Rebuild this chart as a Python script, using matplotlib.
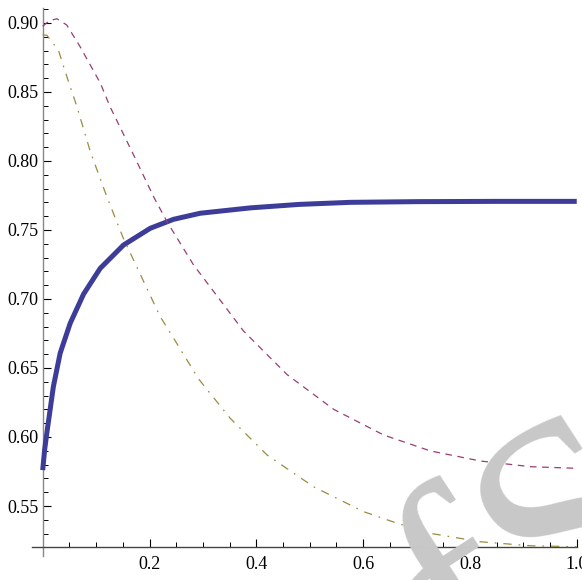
import numpy as np
import matplotlib
matplotlib.use("Agg")
import matplotlib.pyplot as plt

plt.rcParams['font.family'] = ['Liberation Serif', 'DejaVu Serif']
plt.rcParams['lines.scale_dashes'] = False

# values
blue_x = [0, 0.0037, 0.0077, 0.020, 0.0327, 0.0515, 0.0765, 0.1077, 0.1514, 0.2014, 0.245,
          0.295, 0.389, 0.48, 0.576, 0.7, 0.85, 1.0]
blue_y = [0.576, 0.591, 0.6027, 0.6365, 0.6607, 0.6824, 0.7035, 0.7222, 0.7391, 0.7512, 0.7577,
          0.7621, 0.766, 0.7685, 0.770, 0.7705, 0.7707, 0.7707]

purple_x = [0, 0.012, 0.0266, 0.045, 0.07, 0.108, 0.126, 0.17, 0.2076, 0.2327, 0.2826, 0.376, 0.4576,
            0.545, 0.6386, 0.726, 0.8197, 0.913, 1.0]
purple_y = [0.8975, 0.9015, 0.903, 0.8985, 0.8828, 0.8563, 0.8394, 0.8045, 0.7741, 0.756, 0.7246, 0.6768,
            0.6452, 0.620, 0.6014, 0.5899, 0.5826, 0.5785, 0.5773]

olive_x = [0, 0.008, 0.0296, 0.0453, 0.064, 0.089, 0.120, 0.151, 0.220, 0.2357, 0.292, 0.351, 0.420,
           0.507, 0.601, 0.6637, 0.726, 0.8197, 0.913, 1.0]
olive_y = [0.8913, 0.891, 0.880, 0.861, 0.8394, 0.807, 0.7741, 0.744, 0.6872, 0.6775, 0.642, 0.6136,
           0.587, 0.564, 0.5459, 0.5375, 0.5302, 0.5241, 0.5212, 0.5205]

x_major = [0.2, 0.4, 0.6, 0.8, 1.0]
x_labels = ['0.2', '0.4', '0.6', '0.8', '1.0']
y_major = [0.55, 0.60, 0.65, 0.70, 0.75, 0.80, 0.85, 0.90]
y_labels = ['0.55', '0.60', '0.65', '0.70', '0.75', '0.80', '0.85', '0.90']

y_origin = 0.5205

fig = plt.figure(figsize=(5.82, 5.80), dpi=100)
ax = fig.add_axes([0.055, 0.0407, 0.936, 0.946])

# watermark
fig.text(0.805, -0.195, 'fS', fontsize=210, color='#c8c8c8', rotation=33,
         rotation_mode='anchor', ha='left', va='baseline',
         family='Liberation Serif', zorder=0)

ax.patch.set_alpha(0)
ax.plot(blue_x, blue_y, color='#3d3d99', lw=3.6, solid_capstyle='butt',
        solid_joinstyle='round', zorder=3)
ax.plot(purple_x, purple_y, color='#993d74', lw=0.9, dashes=(4.8, 4.0), zorder=3)
ax.plot(olive_x, olive_y, color='#998c3d', lw=0.9, dashes=(6.0, 5.0, 1.2, 5.0), zorder=3)

ax.set_xlim(-0.02, 1.0)
ax.set_ylim(0.5135, 0.911)

for s in ['top', 'right']:
    ax.spines[s].set_visible(False)
ax.spines['left'].set_position(('data', 0))
ax.spines['bottom'].set_position(('data', y_origin))
ax.spines['left'].set_color('#888888')
ax.spines['bottom'].set_color('#444444')
ax.spines['left'].set_linewidth(1.0)
ax.spines['bottom'].set_linewidth(1.0)

ax.set_xticks(x_major)
ax.set_xticklabels(x_labels)
ax.set_xticks(np.arange(0.05, 1.0, 0.05), minor=True)
ax.set_yticks(y_major)
ax.set_yticklabels(y_labels)
ax.set_yticks(np.arange(0.53, 0.915, 0.01), minor=True)

ax.tick_params(axis='both', which='major', direction='in', length=6, width=0.8,
               labelsize=13, color='black')
ax.tick_params(axis='both', which='minor', direction='in', length=3.5, width=0.7, color='black')
ax.tick_params(axis='x', which='major', pad=7)
ax.tick_params(axis='y', which='major', pad=3)

fig.savefig('out.png', dpi=100)
